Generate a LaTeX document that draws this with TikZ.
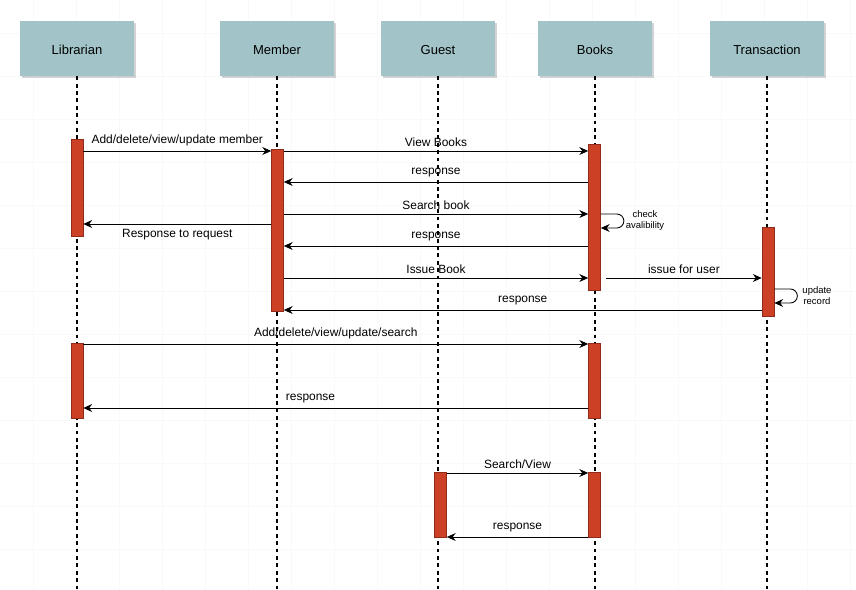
\documentclass[tikz,border=0pt]{standalone}
\usepackage{fontspec}
\setmainfont{Liberation Sans}
\usetikzlibrary{positioning}
\usetikzlibrary{arrows.meta,shadows}
\definecolor{headfill}{HTML}{A2C4C9}
\definecolor{barfill}{HTML}{CC4125}
\definecolor{bardraw}{HTML}{8E2B1A}
\tikzset{head/.style={fill=headfill, minimum width=2.28cm, minimum height=1.1cm, inner sep=0pt,
  text height=1.6ex, text depth=0.4ex, font=\fontsize{7.4}{9}\selectfont,
  drop shadow={shadow xshift=0.04cm, shadow yshift=-0.04cm, fill=black!50, opacity=0.35}}}
\tikzset{bar/.style={fill=barfill, draw=bardraw, line width=0.4pt, minimum width=0.24cm, inner sep=0pt}}
\tikzset{life/.style={dash pattern=on 2.2pt off 2pt, line width=0.6pt}}
\tikzset{msg/.style={-{Stealth[length=5pt,width=4.5pt]}, line width=0.5pt}}
\tikzset{lbl/.style={font=\fontsize{6.8}{8}\selectfont, inner sep=2.5pt}}
\tikzset{note/.style={font=\fontsize{5.4}{6.2}\selectfont, align=center, inner sep=0pt}}
\tikzset{gridline/.style={black!2.5, line width=0.4pt}}

\begin{document}
\begin{tikzpicture}[x=0.02cm,y=-0.02cm]
\useasboundingbox (0,0) rectangle (856,590);
% background grid
\foreach \gx in {33,76,...,850} \draw[gridline] (\gx,0) -- (\gx,590);
\foreach \gy in {33,76,...,590} \draw[gridline] (0,\gy) -- (856,\gy);

% heads
\node[head] (librarian) at (77,48.5) {Librarian};
\node[head] (member) at (277,48.5) {Member};
\node[head] (guest) at (438,48.5) {Guest};
\node[head] (books) at (595,48.5) {Books};
\node[head] (transaction) at (767,48.5) {Transaction};

% lifelines
\coordinate (bottom) at (0,590);
\foreach \h in {librarian,member,guest,books,transaction}
  \draw[life] (\h.south) -- (\h.south |- bottom);

% activations
\node[bar, minimum height=1.94cm] (lib1) at (77,187.5) {};
\node[bar, minimum height=3.24cm] (mem1) at (277.5,230) {};
\node[bar, minimum height=2.92cm] (book1) at (594.5,217) {};
\node[bar, minimum height=1.78cm] (tra1) at (768,271.5) {};
\node[bar, minimum height=1.5cm] (lib2) at (77,380.5) {};
\node[bar, minimum height=1.5cm] (book2) at (594.5,380.5) {};
\node[bar, minimum height=1.3cm] (gue1) at (440.5,504.5) {};
\node[bar, minimum height=1.3cm] (book3) at (594.5,504.5) {};

% message rows
\coordinate (r1) at (0,151);
\coordinate (r2) at (0,182);
\coordinate (r3) at (0,214);
\coordinate (r3b) at (0,228);
\coordinate (r4) at (0,224);
\coordinate (r5) at (0,246);
\coordinate (r6) at (0,278);
\coordinate (r7) at (0,289);
\coordinate (r7b) at (0,303);
\coordinate (r8) at (0,310);
\coordinate (r9) at (0,344);
\coordinate (r10) at (0,408);
\coordinate (r11) at (0,473);
\coordinate (r12) at (0,537);

\draw[msg] (lib1.east |- r1) -- node[lbl,above] {Add/delete/view/update member} (mem1.west |- r1);
\draw[msg] (mem1.east |- r1) -- node[lbl,above] {View Books} (book1.west |- r1);
\draw[msg] (book1.west |- r2) -- node[lbl,above] {response} (mem1.east |- r2);
\draw[msg] (mem1.east |- r3) -- node[lbl,above] {Search book} (book1.west |- r3);
\draw[msg] (mem1.west |- r4) -- node[lbl,below] {Response to request} (lib1.east |- r4);
\draw[msg,rounded corners=0.14cm] (book1.east |- r3) -- ++(23,0) -- ++(0,14) -- (book1.east |- r3b);
\node[note] (check) at (645,221) {check\\avalibility};
\draw[msg] (book1.west |- r5) -- node[lbl,above] {response} (mem1.east |- r5);
\draw[msg] (mem1.east |- r6) -- node[lbl,above] {Issue Book} (book1.west |- r6);
\draw[msg] ([xshift=3pt]book1.east |- r6) -- node[lbl,above] {issue for user} (tra1.west |- r6);
\draw[msg,rounded corners=0.14cm] (tra1.east |- r7) -- ++(23,0) -- ++(0,14) -- (tra1.east |- r7b);
\node[note] (update) at (817,296) {update\\record};
\draw[msg] (tra1.west |- r8) -- node[lbl,above] {response} (mem1.east |- r8);
\draw[msg] (lib2.east |- r9) -- node[lbl,above] {Add/delete/view/update/search} (book2.west |- r9);
\draw[msg] (book2.west |- r10) -- node[lbl,above,pos=0.55] {response} (lib2.east |- r10);
\draw[msg] (gue1.east |- r11) -- node[lbl,above] {Search/View} (book3.west |- r11);
\draw[msg] (book3.west |- r12) -- node[lbl,above] {response} (gue1.east |- r12);
\end{tikzpicture}
\end{document}
